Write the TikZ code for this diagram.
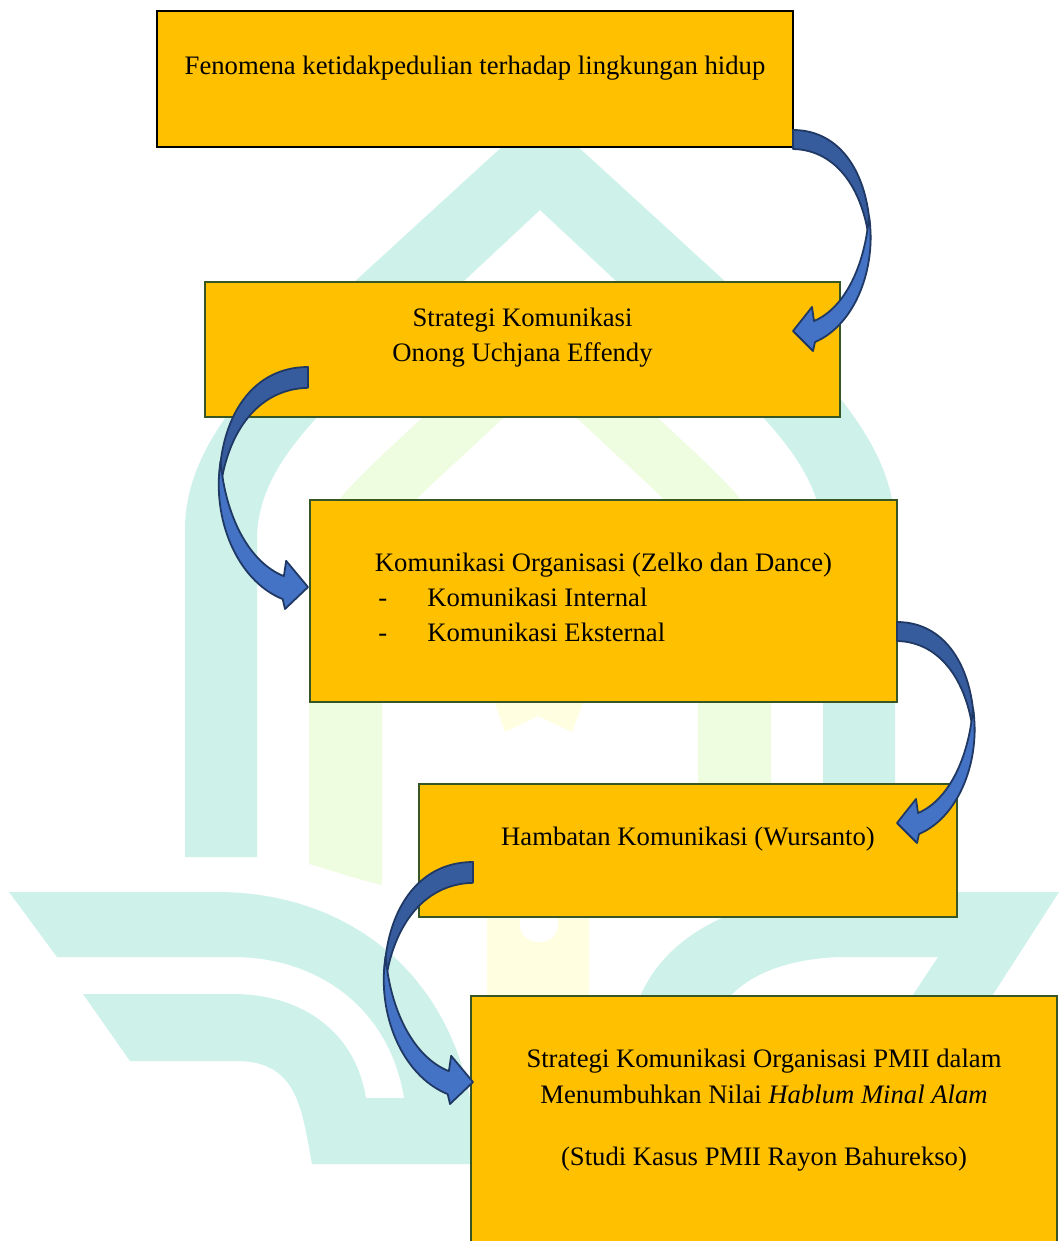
\documentclass[tikz,border=0pt]{standalone}
\usepackage{fontspec}
\setmainfont{Liberation Serif}
\usepackage{tikz}

\definecolor{gold}{HTML}{FFC000}
\definecolor{boxline}{HTML}{375623}
\definecolor{arrowdark}{HTML}{375C9E}
\definecolor{arrowlight}{HTML}{4472C4}
\definecolor{arrowline}{HTML}{1F3864}
\definecolor{mint}{HTML}{CEF2EA}
\definecolor{leaf}{HTML}{EEFCE0}
\definecolor{cream}{HTML}{FFFEE0}
\def\pxu{0.45pt}

\tikzset{
  box/.style={fill=gold, line width=0.9pt, inner sep=0pt, outer sep=0pt},
  txt/.style={anchor=base, inner sep=0pt, font=\fontsize{12}{15.8}\selectfont},
  bendarrow/.pic={
    \filldraw[fill=arrowdark, draw=arrowline, line width=0.8pt, line join=round]
      (0,0) .. controls (52,0) and (80,52) .. (77,118)
      .. controls (72,62) and (45,20) .. (0,19) -- cycle;
    \filldraw[fill=arrowlight, draw=arrowline, line width=0.8pt, line join=round]
      (76,86) .. controls (84,138) and (62,195) .. (22,212)
      -- (20,221) -- (0,201) -- (19,177) -- (21,191)
      .. controls (52,178) and (72,135) .. (76,86) -- cycle;
  }
}

\begin{document}
\begin{tikzpicture}[x=\pxu, y=-\pxu]
        \useasboundingbox (0,0) rectangle (1059,1241);
        \clip (0,0) rectangle (1059,1241);
        \fill[white] (0,0) rectangle (1059,1241);
        \fill[mint] (540,112) -- (740,295) .. controls (850,395) and (895,460) .. (895,530) -- (895,857) -- (823,857) -- (823,540) .. controls (823,460) and (750,400) .. (630,294) -- (540,210) -- (450,294) .. controls (330,400) and (257,460) .. (257,540) -- (257,857) -- (185,857) -- (185,530) .. controls (185,460) and (230,395) .. (340,295) -- cycle;
        \fill[leaf] (540,310) -- (660,420) .. controls (730,485) and (771,520) .. (771,570) -- (771,864) .. controls (750,870) and (720,880) .. (698,885) -- (698,590) .. controls (698,545) and (690,523) .. (650,486) -- (540,384) -- (430,486) .. controls (390,523) and (382,545) .. (382,590) -- (382,885) .. controls (360,880) and (330,870) .. (309,864) -- (309,570) .. controls (309,520) and (350,485) .. (420,420) -- cycle;
        \fill[cream] (494,690) -- (494,700) -- (505,732) -- (538,716) -- (572,732) -- (584,700) -- (584,690) -- cycle;
        \fill[cream, even odd rule] (487,910) rectangle (589,1000) (520,905) -- (520,925) .. controls (520,948) and (558,948) .. (558,925) -- (558,905) -- cycle;
        \fill[mint] (9,892) -- (217,892) .. controls (360,892) and (476,990) .. (476,1164) -- (312,1164) .. controls (302,1110) and (298,1063) .. (240,1061) -- (130,1061) -- (83,994) -- (233,994) .. controls (300,994) and (355,1030) .. (366,1098) -- (404,1098) .. controls (390,1010) and (320,957) .. (233,957) -- (57,957) -- cycle;
        \fill[mint, even odd rule] (635,1010) .. controls (660,930) and (750,892) .. (860,892) -- (1059,892) -- (983,1010) -- cycle (938,957) -- (847,957) .. controls (790,957) and (740,975) .. (720,1010) -- (903,1010) -- cycle;
        \foreach \n/\cx/\cy/\w/\h/\c in {fen/475/79/636/136/black, strat/522.5/349.5/635/135/boxline, org/603.5/601/587/202/boxline, hamb/688/850.5/538/133/boxline, pmii/764/1128/586/264/boxline}{
        \node[box, draw=\c, minimum width=\w*\pxu, minimum height=\h*\pxu] (\n) at (\cx,\cy) {};
        }
        \node[txt] (fentxt) at (475,74) {Fenomena ketidakpedulian terhadap lingkungan hidup};
        \node[txt] (strattxt1) at (522.5,326) {Strategi Komunikasi};
        \node[txt] (strattxt2) at (522.5,361) {Onong Uchjana Effendy};
        \node[txt] (orgtxt) at (603.5,571) {Komunikasi Organisasi (Zelko dan Dance)};
        \foreach \t [count=\i] in {Internal, Eksternal}{
        \node[txt, anchor=base west] (dash\i) at (378,{571+35*\i}) {-};
        \node[txt, anchor=base west] (item\i) at (427,{571+35*\i}) {Komunikasi \t};
        }
        \node[txt] (hambtxt) at (688,845) {Hambatan Komunikasi (Wursanto)};
        \node[txt] (pmiitxt1) at (764,1067) {Strategi Komunikasi Organisasi PMII dalam};
        \node[txt] (pmiitxt2) at (764,1103) {Menumbuhkan Nilai \textit{Hablum Minal Alam}};
        \node[txt] (pmiitxt3) at (764,1165) {(Studi Kasus PMII Rayon Bahurekso)};
        \pic at (793,130) {bendarrow};
        \pic[xscale=-1.15, yscale=1.095] at (308,367) {bendarrow};
        \pic at (897,622) {bendarrow};
        \pic[xscale=-1.15, yscale=1.095] at (473,862) {bendarrow};
      \end{tikzpicture}
\end{document}
